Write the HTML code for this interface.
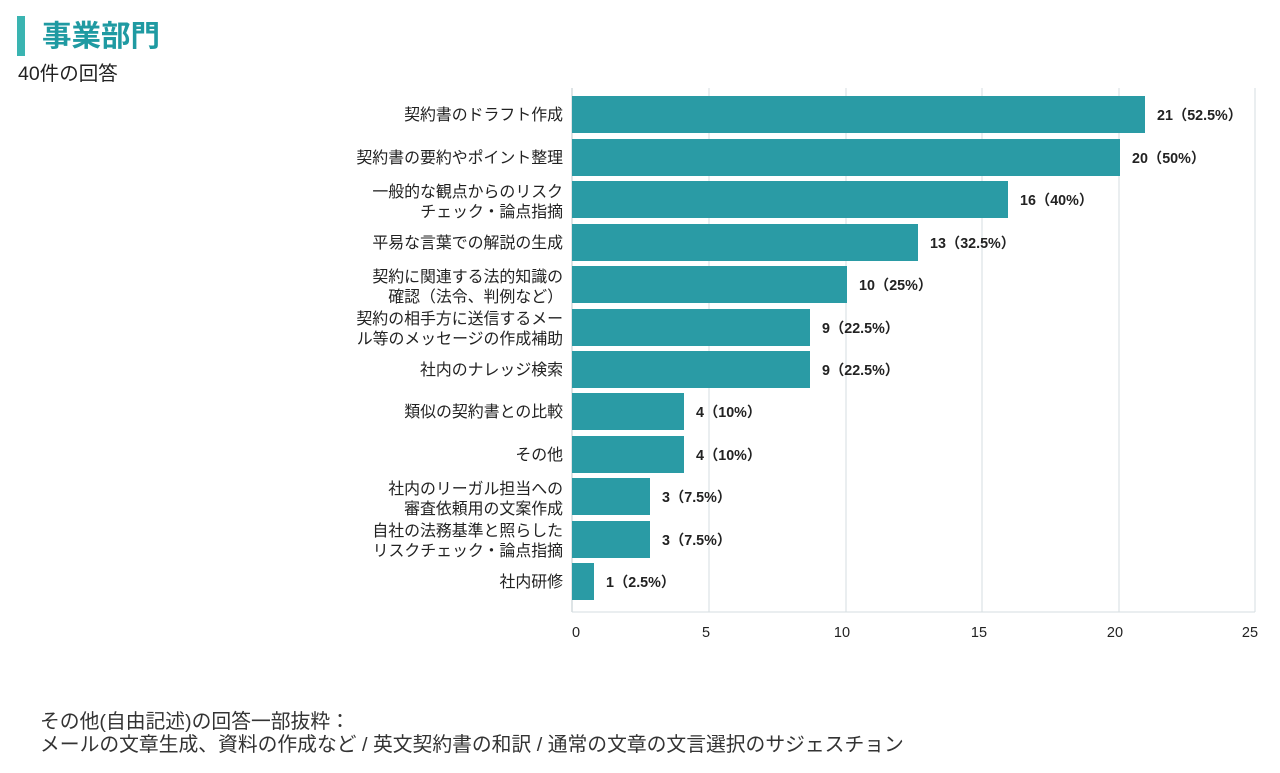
<!DOCTYPE html>
<html><head><meta charset="utf-8"><style>
body{margin:0;background:#fff;width:1280px;height:768px;overflow:hidden;font-family:"Liberation Sans","Noto Sans CJK JP",sans-serif}
</style></head><body>
<svg width="1280" height="768" xmlns="http://www.w3.org/2000/svg" font-family="Liberation Sans, Noto Sans CJK JP, sans-serif">
<rect x="17" y="16" width="8" height="40" fill="#3ab4b1"/>
<text x="42" y="46" font-size="29.5" font-weight="bold" fill="#1f9aa2">事業部門</text>
<text x="18" y="80" font-size="19.5" fill="#222">40件の回答</text>
<g stroke="#d6dde0" stroke-width="1">
<line x1="709" y1="88" x2="709" y2="612"/><line x1="846" y1="88" x2="846" y2="612"/>
<line x1="982" y1="88" x2="982" y2="612"/><line x1="1119" y1="88" x2="1119" y2="612"/>
<line x1="1255" y1="88" x2="1255" y2="612"/>
</g>
<line x1="572" y1="88" x2="572" y2="612" stroke="#bcc8cc"/>
<line x1="572" y1="612" x2="1255" y2="612" stroke="#d6dde0"/>
<g fill="#2a9ba5">
<rect x="572" y="96" width="573" height="37"/>
<rect x="572" y="139" width="548" height="37"/>
<rect x="572" y="181" width="436" height="37"/>
<rect x="572" y="224" width="346" height="37"/>
<rect x="572" y="266" width="275" height="37"/>
<rect x="572" y="309" width="238" height="37"/>
<rect x="572" y="351" width="238" height="37"/>
<rect x="572" y="393" width="112" height="37"/>
<rect x="572" y="436" width="112" height="37"/>
<rect x="572" y="478" width="78" height="37"/>
<rect x="572" y="521" width="78" height="37"/>
<rect x="572" y="563" width="22" height="37"/>
</g>
<g font-size="14.3" font-weight="bold" fill="#222">
<text x="1157" y="120">21（52.5%）</text>
<text x="1132" y="163">20（50%）</text>
<text x="1020" y="205">16（40%）</text>
<text x="930" y="248">13（32.5%）</text>
<text x="859" y="290">10（25%）</text>
<text x="822" y="333">9（22.5%）</text>
<text x="822" y="375">9（22.5%）</text>
<text x="696" y="417">4（10%）</text>
<text x="696" y="460">4（10%）</text>
<text x="662" y="502">3（7.5%）</text>
<text x="662" y="545">3（7.5%）</text>
<text x="606" y="587">1（2.5%）</text>
</g>
<g font-size="15.9" fill="#222" text-anchor="end">
<text x="563" y="120">契約書のドラフト作成</text>
<text x="563" y="163">契約書の要約やポイント整理</text>
<text x="563" y="197">一般的な観点からのリスク</text>
<text x="563" y="217">チェック・論点指摘</text>
<text x="563" y="248">平易な言葉での解説の生成</text>
<text x="563" y="282">契約に関連する法的知識の</text>
<text x="563" y="302">確認（法令、判例など）</text>
<text x="563" y="324">契約の相手方に送信するメー</text>
<text x="563" y="344">ル等のメッセージの作成補助</text>
<text x="563" y="375">社内のナレッジ検索</text>
<text x="563" y="417">類似の契約書との比較</text>
<text x="563" y="460">その他</text>
<text x="563" y="494">社内のリーガル担当への</text>
<text x="563" y="514">審査依頼用の文案作成</text>
<text x="563" y="536">自社の法務基準と照らした</text>
<text x="563" y="556">リスクチェック・論点指摘</text>
<text x="563" y="587">社内研修</text>
</g>
<g font-size="14.5" fill="#222" text-anchor="middle">
<text x="576" y="637">0</text><text x="706" y="637">5</text><text x="842" y="637">10</text>
<text x="979" y="637">15</text><text x="1115" y="637">20</text><text x="1250" y="637">25</text>
</g>
<text x="40" y="728" font-size="19.8" fill="#333">その他(自由記述)の回答一部抜粋：</text>
<text x="40" y="751" font-size="19.8" fill="#333">メールの文章生成、資料の作成など / 英文契約書の和訳 / 通常の文章の文言選択のサジェスチョン</text>
</svg>
</body></html>
